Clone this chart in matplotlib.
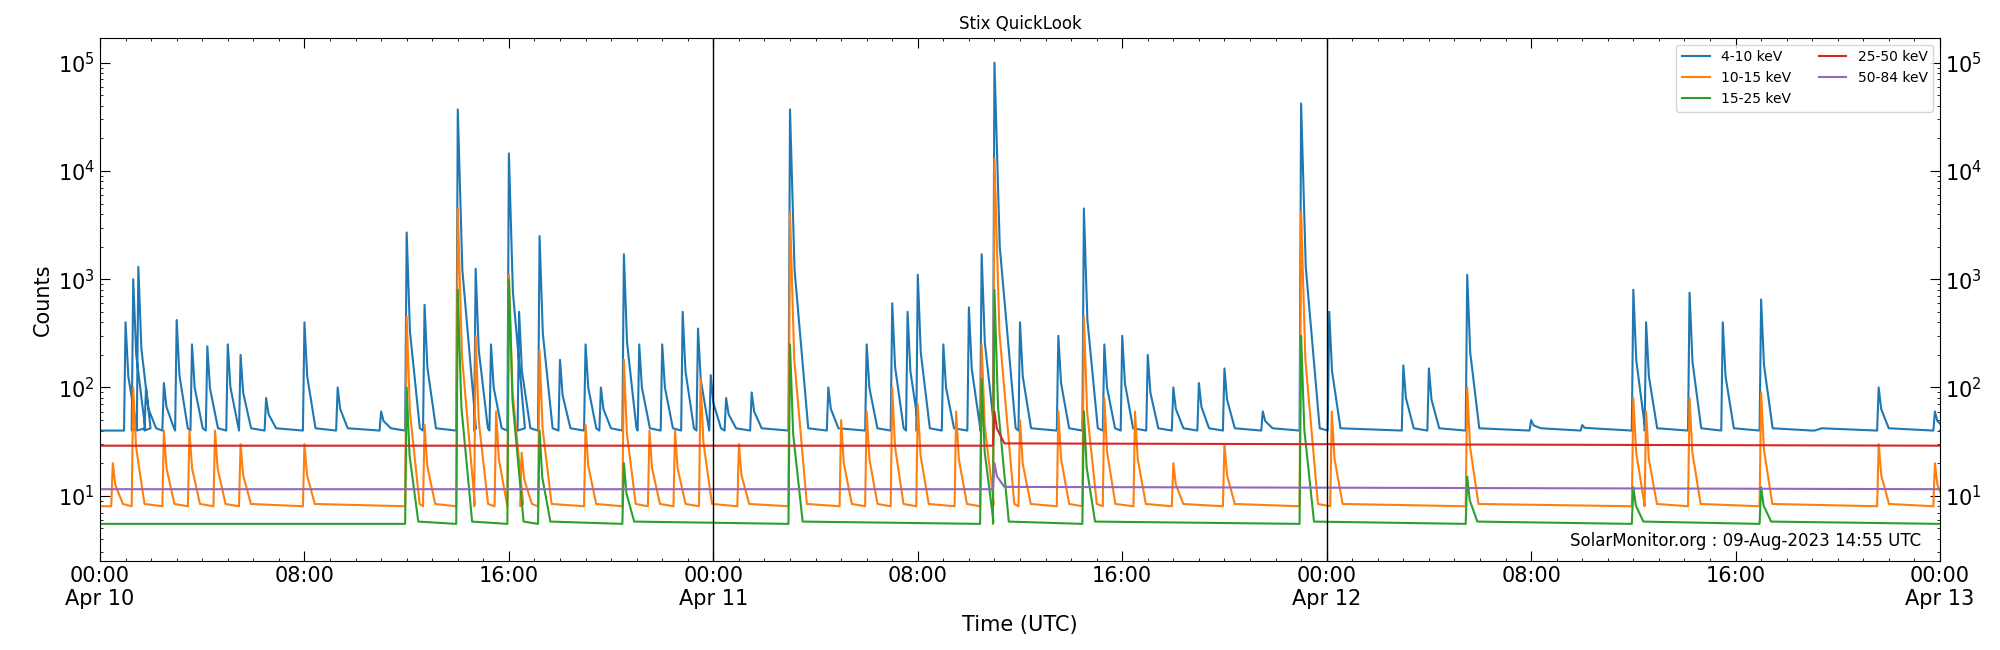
"""Stix QuickLook light curves"""
import matplotlib.pyplot as plt
import matplotlib.ticker as mticker

# hours since Apr 10 00:00 UTC, counts
bg_blue = 40
blue_peaks = [
    (1.0, 400), (1.3, 1000), (1.5, 1300), (1.8, 100), (2.5, 110), (3.0, 420),
    (3.6, 250), (4.2, 240), (5.0, 250), (5.5, 200), (6.5, 80), (8.0, 400),
    (9.3, 100), (11.0, 60), (12.0, 2700), (12.7, 580), (14.0, 37000),
    (14.7, 1250), (15.3, 250), (16.0, 14500), (16.4, 500), (17.2, 2500),
    (18.0, 180), (19.0, 250), (19.6, 100), (20.5, 1700), (21.1, 250),
    (22.0, 250), (22.8, 500), (23.4, 350), (23.9, 130), (24.5, 80),
    (25.5, 90), (27.0, 37000), (28.5, 100), (30.0, 250), (31.0, 600),
    (31.6, 500), (32.0, 1100), (33.0, 250), (34.0, 550), (34.5, 1700),
    (35.0, 100000), (36.0, 400), (37.5, 300), (38.5, 4500), (39.3, 250),
    (40.0, 300), (41.0, 200), (42.0, 100), (43.0, 110), (44.0, 150),
    (45.5, 60), (47.0, 42000), (48.1, 500), (51.0, 160), (52.0, 150),
    (53.5, 1100), (56.0, 50), (58.0, 45), (60.0, 800), (60.5, 400),
    (62.2, 750), (63.5, 400), (65.0, 650), (67.0, 40), (69.6, 100), (71.8, 60),
]
bg_orange = 8
orange_peaks = [
    (0.5, 20), (1.3, 100), (2.5, 40), (3.5, 40), (4.5, 40), (5.5, 30),
    (8.0, 30), (12.0, 450), (12.7, 45), (14.0, 4500), (14.7, 300), (15.5, 60),
    (16.0, 1100), (16.5, 25), (17.2, 220), (19.0, 45), (20.5, 180), (21.5, 40),
    (22.5, 40), (23.5, 120), (25.0, 30), (27.0, 4200), (29.0, 50), (30.0, 60),
    (31.0, 100), (32.0, 70), (33.5, 60), (34.5, 250), (35.0, 13000),
    (36.0, 50), (37.5, 60), (38.5, 450), (39.3, 80), (40.5, 60), (42.0, 20),
    (44.0, 30), (47.0, 4200), (48.2, 60), (53.5, 100), (60.0, 80),
    (60.5, 60), (62.2, 80), (65.0, 90), (69.6, 30), (71.8, 20),
]
bg_green = 5.5
green_peaks = [
    (12.0, 100), (14.0, 800), (16.0, 1000), (17.2, 40), (20.5, 20),
    (27.0, 250), (34.5, 120), (35.0, 800), (38.5, 60), (47.0, 300),
    (53.5, 15), (60.0, 12), (65.0, 12),
]
bg_red = 29
bg_purple = 11.5
red_peaks = [(35.0, 60)]
purple_peaks = [(35.0, 20)]


def build(peaks, bg, rise=0.06, decay=0.3):
    t, v = [0.0], [bg]
    for tp, vp in peaks:
        d = decay * (1 + min(vp / bg, 3000) ** 0.25 / 4)
        t += [tp - rise, tp, tp + d * 0.25, tp + d]
        v += [bg, vp, (vp * bg) ** 0.5, bg * 1.05]
    t.append(72.0)
    v.append(bg)
    return t, v


series = [
    ("4-10 keV", blue_peaks, bg_blue, "#1f77b4"),
    ("10-15 keV", orange_peaks, bg_orange, "#ff7f0e"),
    ("15-25 keV", green_peaks, bg_green, "#2ca02c"),
    ("25-50 keV", red_peaks, bg_red, "#d62728"),
    ("50-84 keV", purple_peaks, bg_purple, "#9467bd"),
]

fig = plt.figure(figsize=(20, 6.5), dpi=100)
ax = fig.add_axes([0.05, 0.137, 0.92, 0.805])
for label, peaks, bg, color in series:
    t, v = build(peaks, bg)
    ax.plot(t, v, color=color, lw=1.5, label=label)

ax.set_yscale("log")
ax.set_ylim(2.5, 1.7e5)
ax.set_xlim(0, 72)
for x in (24, 48):
    ax.axvline(x, color="black", lw=1)

ticks = list(range(0, 73, 8))
labels = []
for h in ticks:
    s = "%02d:00" % (h % 24)
    if h % 24 == 0:
        s += "\nApr %d" % (10 + h // 24)
    labels.append(s)
ax.set_xticks(ticks)
ax.set_xticklabels(labels, fontsize=15)
ax.xaxis.set_minor_locator(mticker.MultipleLocator(1))
ax.tick_params(which="both", direction="in", top=True, right=True,
               labelright=True, labelsize=15)
ax.tick_params(which="major", length=7)
ax.set_xlabel("Time (UTC)", fontsize=15)
ax.set_ylabel("Counts", fontsize=15)
ax.set_title("Stix QuickLook", fontsize=12)
ax.legend(ncol=2, loc="upper right", fontsize=10)
ax.text(0.99, 0.02, "SolarMonitor.org : 09-Aug-2023 14:55 UTC",
        transform=ax.transAxes, ha="right", va="bottom", fontsize=12)
fig.savefig("out.png")
